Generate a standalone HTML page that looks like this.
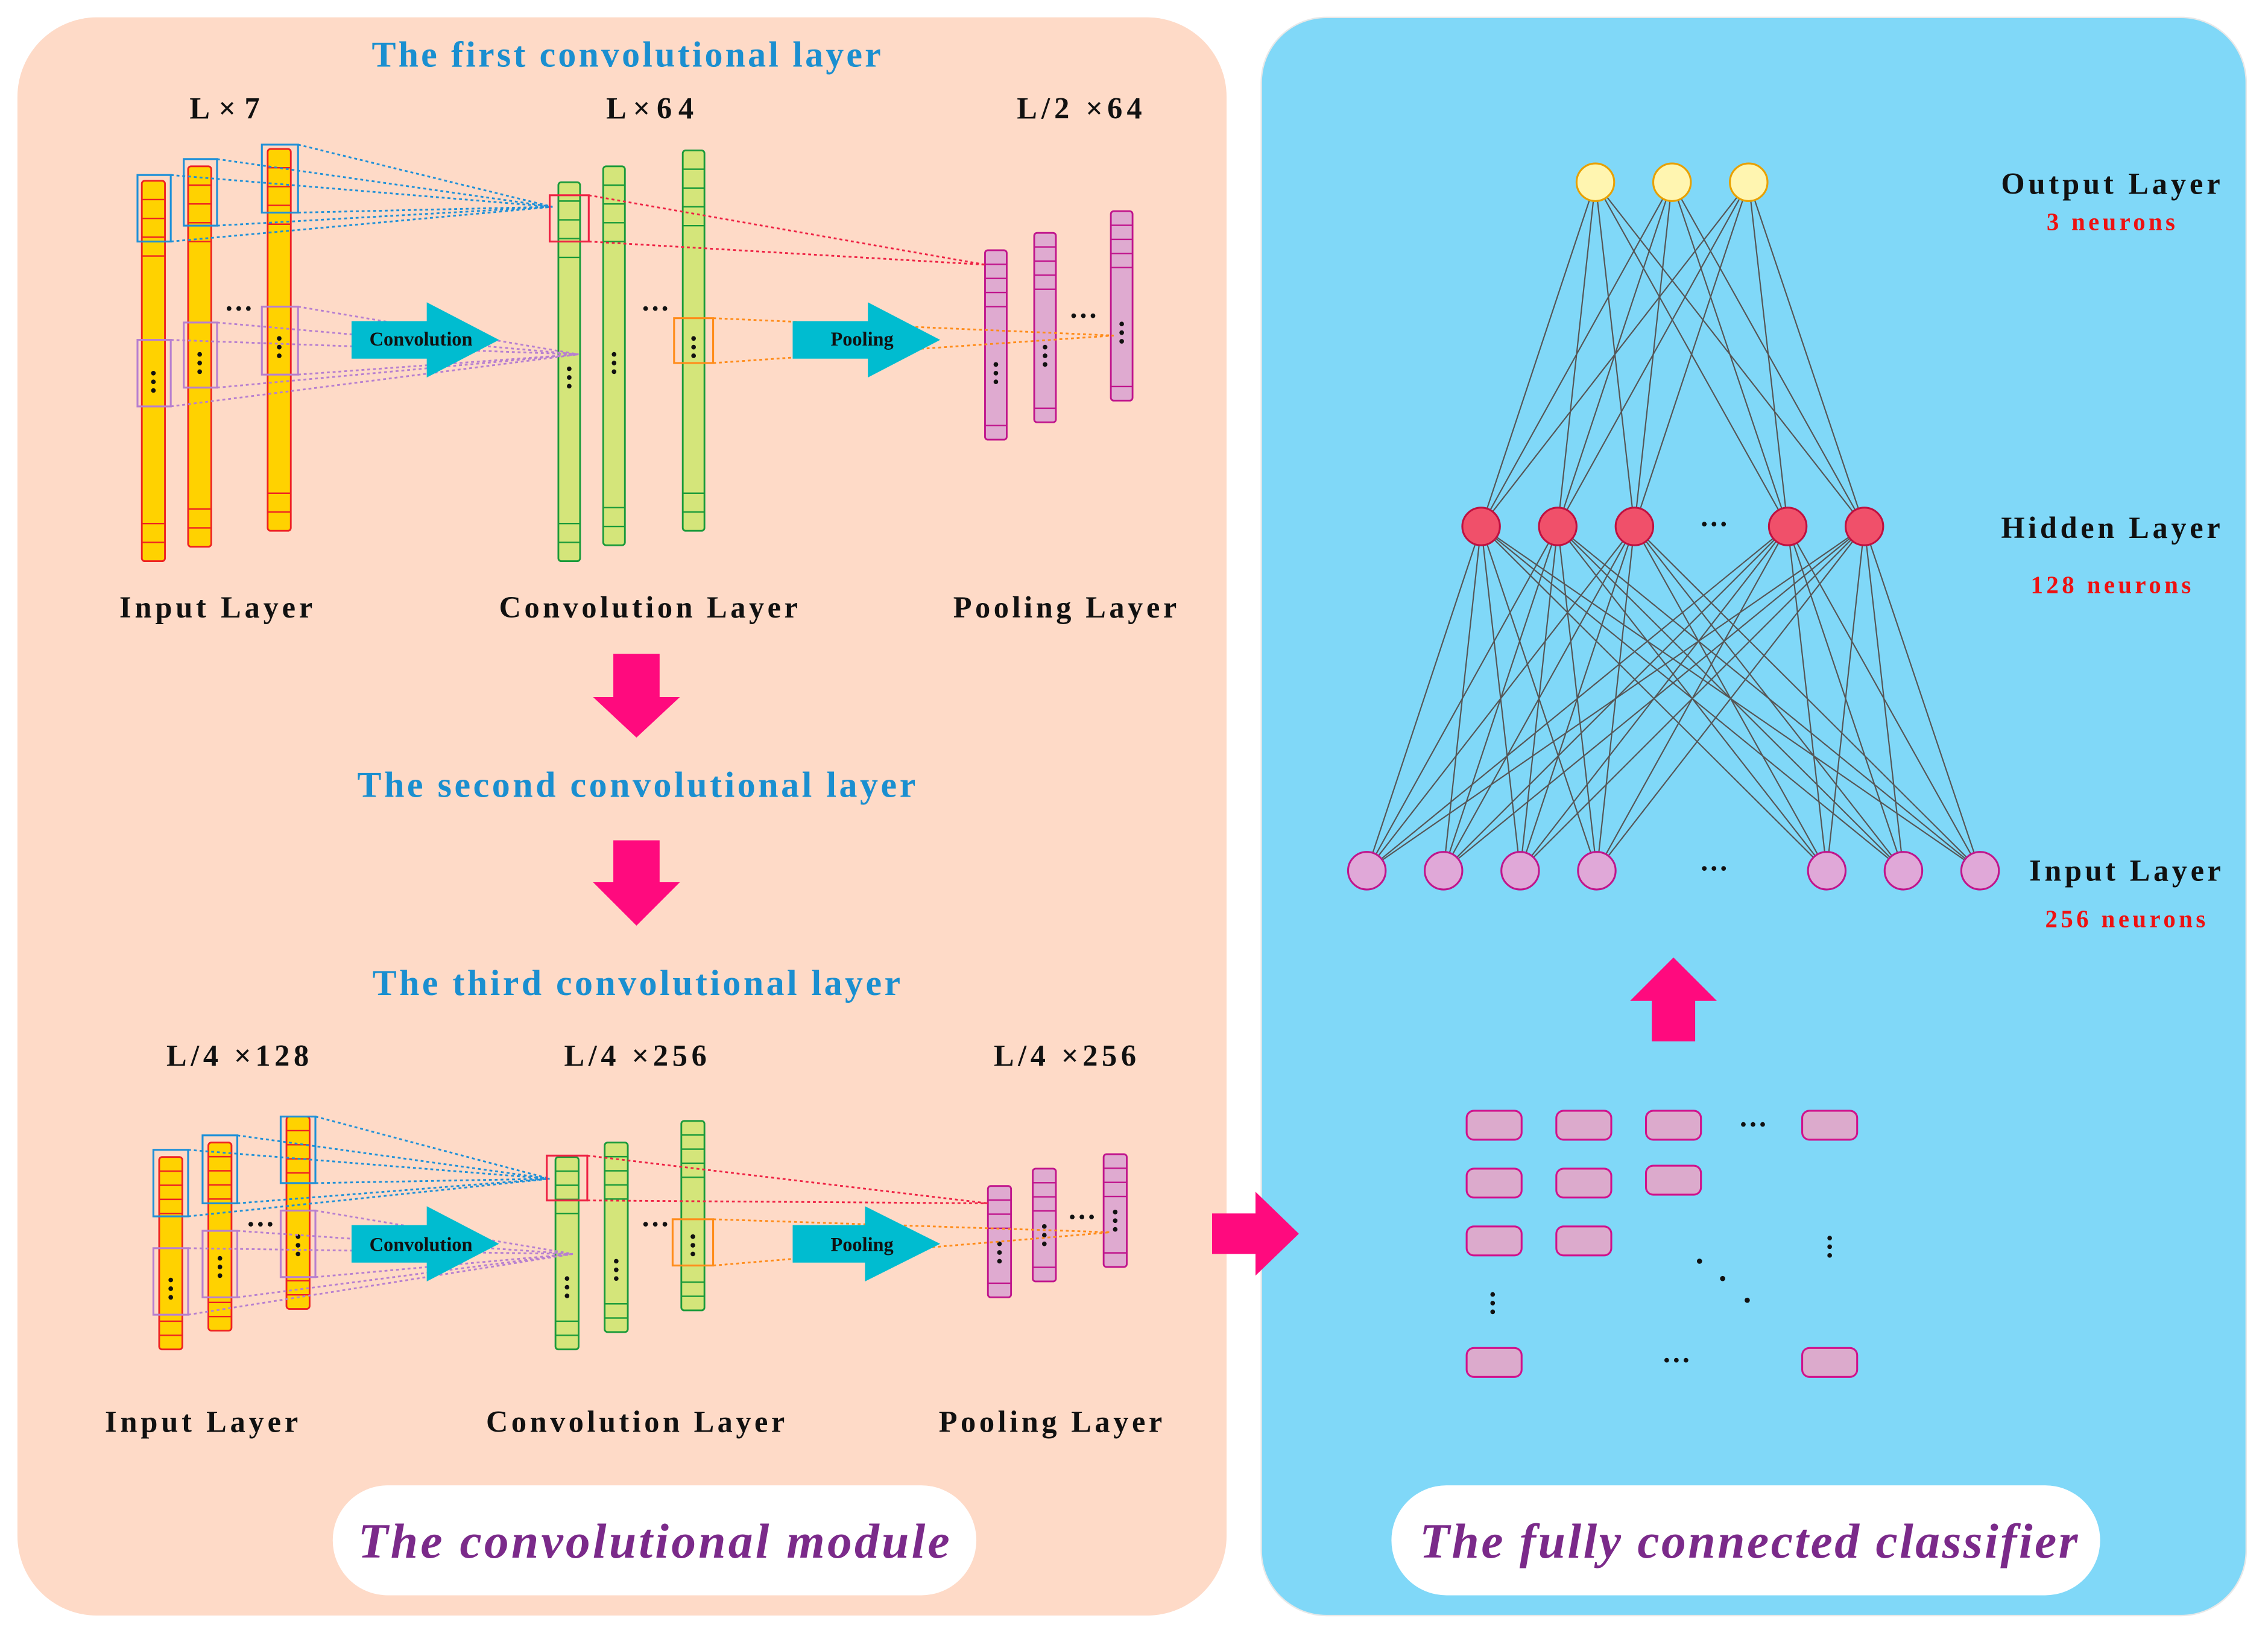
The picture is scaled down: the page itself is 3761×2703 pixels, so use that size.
<!DOCTYPE html>
<html><head><meta charset="utf-8">
<style>
html,body{margin:0;padding:0;background:#fff;}
svg{display:block;}
text{font-family:"Liberation Serif",serif;font-weight:bold;}
</style></head>
<body>
<svg id="s" xmlns="http://www.w3.org/2000/svg" width="3761" height="2703" viewBox="0 0 1568 1127">
<rect x="0" y="0" width="1568" height="1127" fill="#fff"/>
<rect x="12" y="12" width="836" height="1105" rx="55" fill="#fedac7"/>
<rect x="872" y="12" width="681" height="1105" rx="45" fill="#80d8f8" stroke="#e8e8e8" stroke-width="1"/>
<g id="g"></g>
<g fill="#1a8fd0" font-size="25" text-anchor="middle" lengthAdjust="spacing">
<text x="433" y="46" textLength="352">The first convolutional layer</text>
<text x="440" y="551" textLength="386">The second convolutional layer</text>
<text x="440" y="688" textLength="365">The third convolutional layer</text>
</g>
<g fill="#111" font-size="21" text-anchor="middle" letter-spacing="1.5">
<text x="156" y="82" textLength="50">L×7</text>
<text x="450" y="82" textLength="62">L×64</text>
<text x="747" y="82" textLength="88">L/2 ×64</text>
<text x="150" y="427" textLength="135">Input  Layer</text>
<text x="449" y="427" textLength="208">Convolution  Layer</text>
<text x="737" y="427" textLength="156">Pooling  Layer</text>
<text x="165" y="737" textLength="100">L/4 ×128</text>
<text x="440" y="737" textLength="100">L/4 ×256</text>
<text x="737" y="737" textLength="100">L/4 ×256</text>
<text x="140" y="990" textLength="135">Input  Layer</text>
<text x="440" y="990" textLength="208">Convolution  Layer</text>
<text x="727" y="990" textLength="156">Pooling  Layer</text>
<text x="1460" y="134" textLength="153">Output  Layer</text>
<text x="1460" y="372" textLength="153">Hidden  Layer</text>
<text x="1470" y="609" textLength="134">Input  Layer</text>
</g>
<g fill="#ee1111" font-size="17" text-anchor="middle" letter-spacing="1.2">
<text x="1460" y="159" textLength="90">3  neurons</text>
<text x="1460" y="410" textLength="112">128  neurons</text>
<text x="1470" y="641" textLength="112">256  neurons</text>
</g>
<g fill="#111" font-size="13.5" text-anchor="middle">
<text x="291" y="239">Convolution</text>
<text x="596" y="239">Pooling</text>
<text x="291" y="865">Convolution</text>
<text x="596" y="865">Pooling</text>
</g>
<g fill="#111" font-size="20" text-anchor="middle">
<text x="165" y="220">···</text><text x="453" y="220">···</text><text x="749" y="225">···</text>
<text x="180" y="853">···</text><text x="453" y="853">···</text><text x="748" y="848">···</text>
<text x="1185" y="369">···</text><text x="1185" y="607">···</text>
<text x="1212" y="784">···</text><text x="1159" y="947">···</text>
</g>
<rect x="230" y="1027" width="445" height="76" rx="38" fill="#fff"/>
<rect x="962" y="1027" width="490" height="76" rx="38" fill="#fff"/>
<g fill="#7b2a8a" font-size="34" font-style="italic" text-anchor="middle">
<text x="452" y="1077" textLength="409">The convolutional module</text>
<text x="1209" y="1077" textLength="455">The fully connected classifier</text>
</g>
</svg>
<script>
var g=document.getElementById('g'),NS='http://www.w3.org/2000/svg';
function el(t,a){var e=document.createElementNS(NS,t);for(var k in a)e.setAttribute(k,a[k]);g.appendChild(e);return e;}
function poly(pts,f){el('polygon',{points:pts,fill:f});}
function dots(x,y,v){for(var i=0;i<3;i++)el('circle',{cx:v?x:x+i*4,cy:v?y+i*6:y,r:1.6,fill:'#111'});}
function bar(x,y,w,h,fill,st,nTop,nBot,dotY){
 el('rect',{x:x,y:y,width:w,height:h,rx:2,fill:fill,stroke:st,'stroke-width':1.2});
 var step=13*(h>200?1:0.75);
 for(var i=1;i<=nTop;i++)el('line',{x1:x,x2:x+w,y1:y+i*step,y2:y+i*step,stroke:st,'stroke-width':1});
 for(var i=1;i<=nBot;i++)el('line',{x1:x,x2:x+w,y1:y+h-i*step,y2:y+h-i*step,stroke:st,'stroke-width':1});
 if(dotY)dots(x+w/2,dotY,true);
}
function box(x1,y1,x2,y2,c){el('rect',{x:x1,y:y1,width:x2-x1,height:y2-y1,fill:'none',stroke:c,'stroke-width':1.3});}
function dl(x1,y1,x2,y2,c){el('line',{x1:x1,y1:y1,x2:x2,y2:y2,stroke:c,'stroke-width':1.2,'stroke-dasharray':'2,2'});}
function arrowR(x0,x1,x2,yc,bh,hh,c){poly(x0+','+(yc-bh)+' '+x1+','+(yc-bh)+' '+x1+','+(yc-hh)+' '+x2+','+yc+' '+x1+','+(yc+hh)+' '+x1+','+(yc+bh)+' '+x0+','+(yc+bh),c);}
var Y='#ffd200',R='#ee2222',G='#d4e57a',GS='#1a9a3a',P='#dfaad0',PS='#c0158c';
var B='#1e90d8',PU='#b77fd0',RD='#ee2244',OR='#ff8c1a';
[[98,125,263,258],[130,115,263,245],[185,103,264,234]].forEach(function(b){bar(b[0],b[1],16,b[2],Y,R,4,2,b[3]);});
[[386,126,262,255],[417,115,262,245],[472,104,263,234]].forEach(function(b){bar(b[0],b[1],15,b[2],G,GS,4,2,b[3]);});
[[681,173,131,252],[715,161,131,240],[768,146,131,224]].forEach(function(b){bar(b[0],b[1],15,b[2],P,PS,4,1,b[3]);});
[[95,121,118,167],[127,110,150,156],[181,100,206,147]].forEach(function(b){box(b[0],b[1],b[2],b[3],B);dl(b[2],b[1],382,143,B);dl(b[2],b[3],382,143,B);});
[[95,235,118,281],[127,223,150,268],[181,212,206,259]].forEach(function(b){box(b[0],b[1],b[2],b[3],PU);dl(b[2],b[1],400,245,PU);dl(b[2],b[3],400,245,PU);});
box(380,135,407,167,RD);dl(407,135,681,183,RD);dl(407,167,681,183,RD);
box(466,220,493,251,OR);dl(493,220,770,232,OR);dl(493,251,770,232,OR);
arrowR(243,295,345,235,13,26,'#00bcd0');arrowR(548,600,650,235,13,26,'#00bcd0');
[[110,800,133,885],[144,790,130,870],[198,772,133,855]].forEach(function(b){bar(b[0],b[1],16,b[2],Y,R,4,2,b[3]);});
[[384,800,133,884],[418,790,131,872],[471,775,131,855]].forEach(function(b){bar(b[0],b[1],16,b[2],G,GS,4,2,b[3]);});
[[683,820,77,860],[714,808,78,848],[763,798,78,838]].forEach(function(b){bar(b[0],b[1],16,b[2],P,PS,3,1,b[3]);});
[[106,795,130,841],[140,785,164,832],[194,772,218,818]].forEach(function(b){box(b[0],b[1],b[2],b[3],B);dl(b[2],b[1],380,815,B);dl(b[2],b[3],380,815,B);});
[[106,863,130,909],[140,851,164,897],[194,837,218,883]].forEach(function(b){box(b[0],b[1],b[2],b[3],PU);dl(b[2],b[1],396,867,PU);dl(b[2],b[3],396,867,PU);});
box(378,799,406,830,RD);dl(406,799,683,832,RD);dl(406,830,683,832,RD);
box(465,843,493,875,OR);dl(493,843,768,852,OR);dl(493,875,768,852,OR);
arrowR(243,295,345,860,13,26,'#00bcd0');arrowR(548,598,650,860,13,26,'#00bcd0');
var PK='#ff0a7e';
poly('424,452 456,452 456,482 470,482 440,510 410,482 424,482',PK);
poly('424,581 456,581 456,610 470,610 440,640 410,610 424,610',PK);
arrowR(838,868,898,853,14,29,PK);
poly('1142,720 1172,720 1172,692 1187,692 1157,662 1127,692 1142,692',PK);
var O=[1103,1156,1209],H=[1024,1077,1130,1236,1289],I=[945,998,1051,1104,1263,1316,1369];
O.forEach(function(a){H.forEach(function(b){el('line',{x1:a,y1:126,x2:b,y2:364,stroke:'#555','stroke-width':0.9});});});
H.forEach(function(a){I.forEach(function(b){el('line',{x1:a,y1:364,x2:b,y2:602,stroke:'#555','stroke-width':0.9});});});
O.forEach(function(a){el('circle',{cx:a,cy:126,r:13,fill:'#fff5b0',stroke:'#e8a000','stroke-width':1.3});});
H.forEach(function(a){el('circle',{cx:a,cy:364,r:13,fill:'#f0506a',stroke:'#c01040','stroke-width':1.3});});
I.forEach(function(a){el('circle',{cx:a,cy:602,r:13,fill:'#e0a8d8',stroke:'#c0158c','stroke-width':1.3});});
[[1014,768],[1076,768],[1138,768],[1246,768],[1014,808],[1076,808],[1138,806],[1014,848],[1076,848],[1014,932],[1246,932]].forEach(function(p){el('rect',{x:p[0],y:p[1],width:38,height:20,rx:5,fill:'#dcaacc',stroke:'#d0128c','stroke-width':1.3});});
dots(1265,856,true);dots(1032,895,true);
el('circle',{cx:1175,cy:872,r:1.8,fill:'#111'});el('circle',{cx:1191,cy:884,r:1.8,fill:'#111'});el('circle',{cx:1208,cy:899,r:1.8,fill:'#111'});
</script>
</body></html>
